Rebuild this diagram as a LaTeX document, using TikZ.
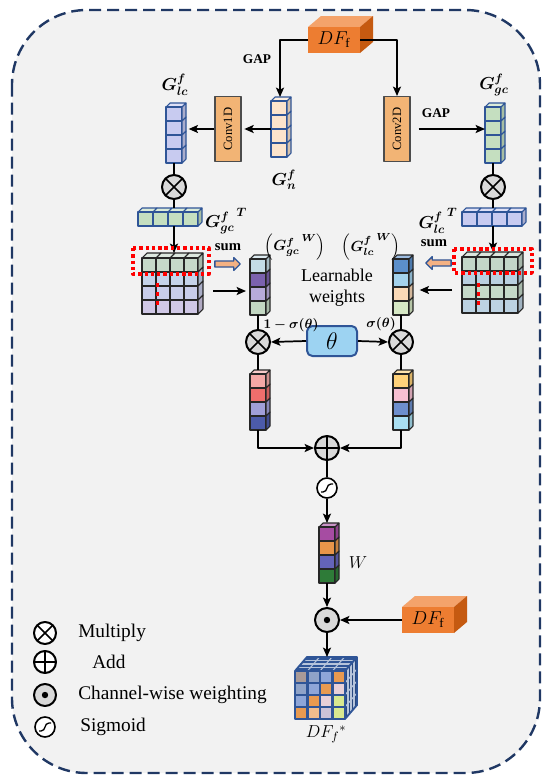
\RequirePackage{fix-cm}
\documentclass[tikz,border=0pt]{standalone}
\usepackage{fontspec}
\setmainfont{Liberation Serif}
\usepackage{amsmath,bm}
\usetikzlibrary{arrows.meta,shapes.arrows}

\definecolor{framenavy}{HTML}{203864}
\definecolor{bggray}{HTML}{F2F2F2}
\definecolor{edgeblue}{HTML}{2F5597}
\definecolor{dforange}{HTML}{ED7D31}
\definecolor{dftop}{HTML}{F4A36B}
\definecolor{dfside}{HTML}{C55A11}
\definecolor{convfill}{HTML}{F2B475}
\definecolor{peach}{HTML}{FCE4CC}
\definecolor{lav}{HTML}{C8CBF0}
\definecolor{mint}{HTML}{C5DFC0}
\definecolor{opgray}{HTML}{D9D9D9}
\definecolor{thetablue}{HTML}{9DD3F2}
\definecolor{sumorange}{HTML}{F4B183}
\definecolor{dotred}{HTML}{FF0000}
% learnable weights
\definecolor{lwa}{HTML}{C4DCE6}\definecolor{lwb}{HTML}{7B62AE}
\definecolor{lwc}{HTML}{B7ABDA}\definecolor{lwd}{HTML}{C2D7C2}
\definecolor{rwa}{HTML}{5B8FCB}\definecolor{rwb}{HTML}{A4D2EC}
\definecolor{rwc}{HTML}{FAD9B7}\definecolor{rwd}{HTML}{D6E8C5}
% weighted vectors
\definecolor{lpa}{HTML}{F4A8A6}\definecolor{lpb}{HTML}{EE6E6C}
\definecolor{lpc}{HTML}{A09FD8}\definecolor{lpd}{HTML}{4C5BAA}
\definecolor{rpa}{HTML}{FFD27A}\definecolor{rpb}{HTML}{F7C0D2}
\definecolor{rpc}{HTML}{6E8FCD}\definecolor{rpd}{HTML}{AADFF2}
\definecolor{wa}{HTML}{A64CA2}\definecolor{wb}{HTML}{E8954A}
\definecolor{wc}{HTML}{6464BA}\definecolor{wd}{HTML}{2E7B38}
% matrices
\definecolor{lma}{HTML}{C6D9C9}\definecolor{lmb}{HTML}{C5D3EA}
\definecolor{lmc}{HTML}{C8CDEA}\definecolor{lmd}{HTML}{D0C8E6}
\definecolor{rma}{HTML}{C3D6C8}\definecolor{rmb}{HTML}{B9CFE0}
\definecolor{rmc}{HTML}{C5D9C9}\definecolor{rmd}{HTML}{BCD2E2}
% output cube
\definecolor{ca}{HTML}{A89A98}\definecolor{cb}{HTML}{8FA3C8}
\definecolor{cc}{HTML}{E89A50}\definecolor{cd}{HTML}{E8D0D8}
\definecolor{ce}{HTML}{D8E890}\definecolor{cf}{HTML}{8EA6D8}

% column of 4 cells: name, edge, x, y, colours
\newcommand{\cellcol}[5]{%
  \foreach \cl [count=\ii from 0] in {#5} {
    \ifnum\ii=0
      \filldraw[fill=\cl!60!white, draw=#2, line width=0.8pt] (#3,#4) -- ++(4,-4) -- ++(16,0) -- ++(-4,4) -- cycle;
    \fi
    \filldraw[fill=\cl, draw=#2, line width=0.8pt] (#3,#4+\ii*14) rectangle ++(16,14);
    \filldraw[fill=\cl!85!black, draw=#2, line width=0.8pt] (#3+16,#4+\ii*14) -- ++(4,-4) -- ++(0,14) -- ++(-4,4) -- cycle;
  }
  \coordinate (#1-n) at (#3+9,#4-4);
  \coordinate (#1-s) at (#3+8,#4+56);
  \coordinate (#1-w) at (#3,#4+28);
  \coordinate (#1-e) at (#3+20,#4+28);
}
% row of 4 cells: name, edge, x, y, colour
\newcommand{\cellrow}[5]{%
  \foreach \kk in {0,...,3} {
    \filldraw[fill=#5!60!white, draw=#2, line width=0.8pt] (#3+\kk*15,#4) -- ++(4,-4) -- ++(15,0) -- ++(-4,4) -- cycle;
    \filldraw[fill=#5, draw=#2, line width=0.8pt] (#3+\kk*15,#4) rectangle ++(15,14);
  }
  \filldraw[fill=#5!85!black, draw=#2, line width=0.8pt] (#3+60,#4) -- ++(4,-4) -- ++(0,14) -- ++(-4,4) -- cycle;
  \coordinate (#1-n) at (#3+32,#4-4);
  \coordinate (#1-s) at (#3+30,#4+14);
}
% 4x4 grid: name, edge, x, y, row colours
\newcommand{\cellgrid}[5]{%
  \foreach \cl [count=\rr from 0] in {#5} {
    \foreach \kk in {0,...,3} {
      \ifnum\rr=0
        \filldraw[fill=\cl!60!white, draw=#2, line width=0.8pt] (#3+\kk*14,#4) -- ++(5,-5) -- ++(14,0) -- ++(-5,5) -- cycle;
      \fi
      \filldraw[fill=\cl, draw=#2, line width=0.8pt] (#3+\kk*14,#4+\rr*14) rectangle ++(14,14);
    }
    \filldraw[fill=\cl!85!black, draw=#2, line width=0.8pt] (#3+56,#4+\rr*14) -- ++(5,-5) -- ++(0,14) -- ++(-5,5) -- cycle;
  }
  \coordinate (#1-n) at (#3+30,#4-5);
  \coordinate (#1-w) at (#3,#4+33);
  \coordinate (#1-e) at (#3+61,#4+33);
}
% orange feature block: name, x, y
\newcommand{\dfbox}[3]{%
  \fill[dftop] (#2,#3) -- ++(13,-11) -- ++(52,0) -- ++(-13,11) -- cycle;
  \fill[dfside] (#2+52,#3) -- ++(13,-11) -- ++(0,26) -- ++(-13,11) -- cycle;
  \node[fill=dforange, minimum width=39pt, minimum height=19.5pt, inner sep=0pt, outer sep=0pt,
        font=\fontsize{14}{16}\selectfont] (#1) at (#2+26,#3+13) {$DF_{\mathrm{f}}$};
}

\begin{document}
\begin{tikzpicture}[x=0.75pt, y=-0.75pt, line join=round,
  line/.style={line width=1.3pt},
  arr/.style={line width=1.3pt, -{Stealth[length=7pt,width=6pt,inset=1.5pt]}},
  op/.style={circle, draw, line width=1.5pt, fill=opgray, minimum size=18pt, inner sep=0pt},
  mulop/.style={op, path picture={\draw[black, line width=1.3pt]
      (path picture bounding box.north west) -- (path picture bounding box.south east)
      (path picture bounding box.north east) -- (path picture bounding box.south west);}},
  plusop/.style={op, path picture={\draw[black, line width=1.3pt]
      (path picture bounding box.north) -- (path picture bounding box.south)
      (path picture bounding box.west) -- (path picture bounding box.east);}},
  dotop/.style={op, path picture={\fill[black] (path picture bounding box.center) circle (2.4pt);}},
  sigop/.style={circle, draw, line width=1.2pt, fill=white, minimum size=15pt, inner sep=0pt,
    path picture={\draw[black, line width=1pt] ([shift={(-6,4)}]path picture bounding box.center)
      -- ++(2,0) .. controls +(5,0) and +(-5,0) .. ++(8,-8) -- ++(2,0);}},
  convbox/.style={draw=black!70, fill=convfill, line width=1pt, minimum width=19.5pt,
    minimum height=48.5pt, inner sep=0pt, font=\fontsize{9.5}{11}\selectfont},
  thetabox/.style={draw=edgeblue, fill=thetablue, line width=1.5pt, rounded corners=4pt,
    minimum width=37.5pt, minimum height=22.5pt, inner sep=0pt, font=\fontsize{18}{20}\selectfont},
  sumarrow/.style={single arrow, draw=edgeblue, fill=sumorange, line width=1pt, minimum height=19pt,
    inner sep=1.8pt, single arrow head extend=2.5pt},
  reddot/.style={dotred, line width=2.5pt, dash pattern=on 2.5pt off 2.2pt},
  lbl/.style={font=\fontsize{13}{15}\selectfont, inner sep=1pt},
  wlbl/.style={font=\fontsize{11}{13}\selectfont, inner sep=0pt},
  gaplbl/.style={font=\bfseries\fontsize{10}{12}\selectfont, inner sep=1pt},
  sumlbl/.style={font=\bfseries\fontsize{11}{13}\selectfont, inner sep=1pt},
  siglbl/.style={font=\fontsize{10}{12}\selectfont, inner sep=0pt},
  legtext/.style={font=\fontsize{14.5}{17}\selectfont, anchor=west, inner sep=0pt}]

\useasboundingbox (0,0) rectangle (550,783);
\draw[framenavy, fill=bggray, line width=1.8pt, dash pattern=on 9pt off 4.5pt, rounded corners=56pt]
  (12,10) rectangle (540,773);

% global pooling branches
\dfbox{dftop}{308}{27}
\node[convbox] (conv1) at (228,129) {\rotatebox{90}{Conv1D}};
\node[convbox] (conv2) at (397,129) {\rotatebox{90}{Conv2D}};
\cellcol{gn}{edgeblue}{271}{101}{peach,peach,peach,peach}
\cellcol{glc}{edgeblue}{166}{107}{lav,lav,lav,lav}
\cellcol{ggc}{edgeblue}{485}{107}{mint,mint,mint,mint}
\node[lbl] (glclbl) at (175,85) {$\bm{G_{lc}^{f}}$};
\node[lbl] (ggclbl) at (494,85) {$\bm{G_{gc}^{f}}$};
\node[lbl] (gnlbl) at (284,180) {$\bm{G_{n}^{f}}$};
\node[gaplbl] (gap1) at (257,59) {GAP};
\node[gaplbl] (gap2) at (436,113) {GAP};
\draw[arr] (dftop.west) -| (gn-n);
\draw[arr] (dftop.east) -| (conv2.north);
\draw[arr, shorten >=2pt] (gn-w) -- (gn-w -| conv1.east);
\draw[arr, shorten >=2pt] (conv1.west) -- (conv1.west -| glc-e);
\draw[arr, shorten <=6pt] (conv2.east) -- (conv2.east -| ggc-w);

% products with transposes
\node[mulop] (mulgl) at (174,187) {};
\node[mulop] (mulgr) at (493,187) {};
\cellrow{ggct}{edgeblue}{138}{212}{mint}
\cellrow{glct}{edgeblue}{462}{212}{lav}
\node[lbl] (ggctlbl) at (226,221) {${\bm{G_{gc}^{f}}}^{\,\bm{T}}$};
\node[lbl] (glctlbl) at (438,221) {${\bm{G_{lc}^{f}}}^{\,\bm{T}}$};
\draw[line] (glc-s -| mulgl) -- (mulgl.north);
\draw[line] (ggc-s -| mulgr) -- (mulgr.north);
\draw[line] (mulgl.south) -- (mulgl.south |- ggct-n);
\draw[line] (mulgr.south) -- (mulgr.south |- glct-n);

% matrices and summation
\cellgrid{lmat}{black!85}{142}{258}{lma,lmb,lmc,lmd}
\cellgrid{rmat}{black!85}{462}{257}{rma,rmb,rmc,rmd}
\draw[arr] (ggct-s -| mulgl) -- (lmat-n -| mulgl);
\draw[arr] (glct-s -| mulgr) -- (rmat-n -| mulgr);
\draw[reddot] (133,248) rectangle (209,274);
\draw[reddot] (454,249) rectangle (532,273);
\foreach \yy in {285,294,303} {
  \fill[dotred] (155.5,\yy-2) rectangle ++(3.5,4);
  \fill[dotred] (476.5,\yy-2) rectangle ++(3.5,4);
}
\node[sumlbl] (suml) at (228,247) {sum};
\node[sumlbl] (sumr) at (434,243) {sum};
\node[sumarrow] (sal) at (226,264) {};
\node[sumarrow, shape border rotate=180] (sar) at (440,263) {};

% learnable weights
\cellcol{lw}{black!85}{250}{259}{lwa,lwb,lwc,lwd}
\cellcol{rw}{black!85}{393}{259}{rwa,rwb,rwc,rwd}
\draw[arr, shorten <=7.5pt, shorten >=3pt] (lmat-e) -- (lmat-e -| lw-w);
\draw[arr, shorten <=7.5pt, shorten >=5pt] (rmat-w) -- (rmat-w -| rw-e);
\node[wlbl] (lwlbl) at (295,247) {$\Bigl({\bm{G_{gc}^{f}}}^{\,\bm{W}}\Bigr)$};
\node[wlbl] (rwlbl) at (371,247) {$\Bigl({\bm{G_{lc}^{f}}}^{\,\bm{W}}\Bigr)$};
\node[font=\fontsize{13.5}{15.75}\selectfont, align=center] (lwtext) at (337,288) {Learnable\\weights};

% weighting by theta
\node[mulop] (mulml) at (258,342) {};
\node[mulop] (mulmr) at (401,342) {};
\node[thetabox] (theta) at (332,341) {$\theta$};
\node[siglbl] (oneminus) at (291,325) {$\bm{1-\sigma(\theta)}$};
\node[siglbl] (sigtheta) at (381,324) {$\bm{\sigma(\theta)}$};
\draw[line] (lw-s) -- (mulml.north);
\draw[line] (rw-s -| mulmr) -- (mulmr.north);
\draw[arr] (theta.west) -- (mulml.east);
\draw[arr] (theta.east) -- (mulmr.west);
\cellcol{lp}{black!85}{250}{374}{lpa,lpb,lpc,lpd}
\cellcol{rp}{black!85}{393}{374}{rpa,rpb,rpc,rpd}
\draw[line] (mulml.south) -- (lp-n -| mulml);
\draw[line] (mulmr.south) -- (rp-n -| mulmr);

% fusion
\node[plusop] (addc) at (327,448) {};
\draw[arr] (lp-s) |- (addc.west);
\draw[arr] (rp-s -| mulmr) |- (addc.east);
\node[sigop] (sigc) at (327,488) {};
\draw[line] (addc.south) -- (sigc.north);
\cellcol{wv}{black!85}{319}{527}{wa,wb,wc,wd}
\node[lbl] (wlbl) at (358,563) {$W$};
\draw[arr] (sigc.south) -- (sigc.south |- wv-n);
\node[dotop] (cwc) at (327,620) {};
\draw[arr] (wv-s -| cwc) -- (cwc.north);
\dfbox{dfbot}{402}{607}
\draw[arr] (dfbot.west) -- (cwc.east);

% output cube
\foreach \cl [count=\nn from 0] in {ca,cb,cf,cc, cb,cf,cc,cd, cf,cc,cd,ce, cc,cc!65!white,cd!70!cf,ce} {
  \pgfmathtruncatemacro\cx{mod(\nn,4)}
  \pgfmathtruncatemacro\cy{\nn/4}
  \fill[\cl] (295+\cx*12.5,671+\cy*12) rectangle ++(12.5,12);
}
\fill[edgeblue] (295,671) -- ++(12,-14) -- ++(50,0) -- ++(-12,14) -- cycle;
\fill[edgeblue!85!black] (345,671) -- ++(12,-14) -- ++(0,48) -- ++(-12,14) -- cycle;
\foreach \kk in {1,2,3} {
  \draw[edgeblue!35!white, line width=0.8pt] (295+\kk*12.5,671) -- ++(12,-14);
  \draw[edgeblue!35!white, line width=0.8pt] (295+\kk*3,671-\kk*3.5) -- ++(50,0);
  \draw[edgeblue!35!white, line width=0.8pt] (345,671+\kk*12) -- ++(12,-14);
  \draw[edgeblue!35!white, line width=0.8pt] (345+\kk*3,671-\kk*3.5) -- ++(0,48);
}
\foreach \kk in {0,...,4} {
  \draw[edgeblue, line width=1.6pt] (295+\kk*12.5,671) -- ++(0,48);
  \draw[edgeblue, line width=1.6pt] (295,671+\kk*12) -- ++(50,0);
}
\draw[edgeblue, line width=1.4pt] (295,719) -- (295,671) -- ++(12,-14) -- ++(50,0) -- ++(0,48)
  -- ++(-12,14) -- cycle (345,671) -- ++(12,-14);
\coordinate (dfs-n) at (326,657);
\draw[arr] (cwc.south) -- (cwc.south |- dfs-n);
\node[lbl] (dfslbl) at (326,734) {$DF_f{}^{*}$};

% legend
\node[mulop, fill=white, minimum size=16.5pt] (lgmul) at (45,633) {};
\node[legtext] (lgmultxt) at (78,633) {Multiply};
\node[plusop, fill=white, minimum size=16.5pt] (lgadd) at (45,662) {};
\node[legtext] (lgaddtxt) at (92,662) {Add};
\node[dotop, minimum size=16.5pt] (lgcw) at (45,695) {};
\node[legtext] (lgcwtxt) at (78,695) {Channel-wise weighting};
\node[sigop] (lgsig) at (45,727) {};
\node[legtext] (lgsigtxt) at (80,727) {Sigmoid};
\end{tikzpicture}
\end{document}
